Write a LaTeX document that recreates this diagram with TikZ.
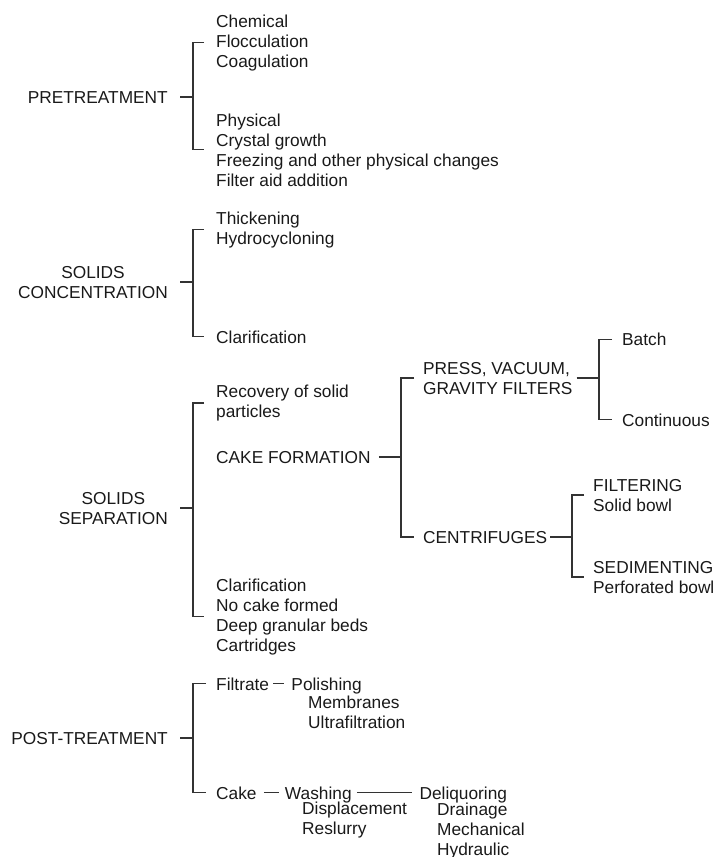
\documentclass[tikz,border=0pt]{standalone}
\usepackage{fontspec}
\setmainfont{Liberation Sans}
\usetikzlibrary{positioning}
\newcommand\treefont{\fontsize{17.3}{20}\selectfont}
\tikzset{
  itemtxt/.style={inner sep=0pt, anchor=base west, align=left, font=\treefont, text=black!90},
  headtxt/.style={inner sep=0pt, anchor=base east, align=center, font=\treefont, text=black!90},
  brline/.style={line width=1.2pt, draw=black!80},
}

\begin{document}
\begin{tikzpicture}[x=1pt,y=-1pt]
  \useasboundingbox (0,0) rectangle (716,857);
  % pretreatment (node base = last line)
  \node[headtxt] (pre) at (168,103) {PRETREATMENT};
  \node[itemtxt] (chem) at (216,67) {Chemical\\Flocculation\\Coagulation};
  \node[itemtxt] (phys) at (216,186) {Physical\\Crystal growth\\Freezing and other physical changes\\Filter aid addition};
  \draw[brline] ([xshift=-12pt]chem.west) -- ++(-11,0) coordinate (prej) |- ([xshift=-12pt]phys.west);
  \draw[brline] ([xshift=12pt]pre.east) -- (pre.east -| prej);
  % solids concentration
  \node[headtxt] (conc) at (168,298) {SOLIDS\\CONCENTRATION};
  \node[itemtxt] (thick) at (216,244) {Thickening\\Hydrocycloning};
  \node[itemtxt] (clar) at (216,343) {Clarification};
  \draw[brline] ([xshift=-12pt]thick.west) -- ++(-11,0) coordinate (concj) |- ([xshift=-12pt]clar.west);
  \draw[brline] ([xshift=12pt]conc.east) -- (conc.east -| concj);
  % solids separation
  \node[headtxt] (sep) at (168,524) {SOLIDS\\SEPARATION};
  \node[itemtxt] (recov) at (216,417.5) {Recovery of solid\\particles};
  \node[itemtxt] (cake) at (216,463) {CAKE FORMATION};
  \node[itemtxt] (nocake) at (216,651) {Clarification\\No cake formed\\Deep granular beds\\Cartridges};
  \draw[brline] ([xshift=-12pt]recov.west) -- ++(-11,0) coordinate (sepj) |- ([xshift=-12pt]nocake.west);
  \draw[brline] ([xshift=12pt]sep.east) -- (sep.east -| sepj);
  % cake formation
  \node[itemtxt] (press) at (423,394) {PRESS, VACUUM,\\GRAVITY FILTERS};
  \node[itemtxt] (centri) at (423,543) {CENTRIFUGES};
  \draw[brline] ([xshift=-9pt]press.west) -- ++(-13,0) coordinate (cakej) |- ([xshift=-9pt]centri.west);
  \draw[brline] ([xshift=8pt]cake.east) -- (cake.east -| cakej);
  % filters
  \node[itemtxt] (batch) at (622,345.5) {Batch};
  \node[itemtxt] (cont) at (622,426) {Continuous};
  \draw[brline] ([xshift=-10pt]batch.west) -- ++(-13,0) coordinate (pressj) |- ([xshift=-10pt]cont.west);
  \draw[brline] ([xshift=4pt]press.east) -- (press.east -| pressj);
  % centrifuges
  \node[itemtxt] (filt) at (593,511) {FILTERING\\Solid bowl};
  \node[itemtxt] (sedi) at (593,593) {SEDIMENTING\\Perforated bowl};
  \draw[brline] ([xshift=-9pt]filt.west) -- ++(-12,0) coordinate (centj) |- ([xshift=-9pt]sedi.west);
  \draw[brline] ([xshift=3pt]centri.east) -- (centri.east -| centj);
  % post-treatment
  \node[headtxt] (post) at (168,744) {POST-TREATMENT};
  \node[itemtxt] (filtr) at (216,690) {Filtrate};
  \node[itemtxt, base right=22pt of filtr] (polish) {Polishing};
  \node[itemtxt] (membr) at (308,728) {Membranes\\Ultrafiltration};
  \node[itemtxt] (caketr) at (216,799) {Cake};
  \node[itemtxt, base right=28pt of caketr] (wash) {Washing};
  \node[itemtxt] (displ) at (302,834.5) {Displacement\\Reslurry};
  \node[itemtxt, base right=67.5pt of wash] (deliq) {Deliquoring};
  \node[itemtxt] (drain) at (437,855) {Drainage\\Mechanical\\Hydraulic};
  \draw[brline] ([xshift=-10pt]filtr.west) -- ++(-13,0) coordinate (postj) |- ([xshift=-10pt]caketr.west);
  \draw[brline] ([xshift=12pt]post.east) -- (post.east -| postj);
  \draw[brline] ([xshift=4pt]filtr.east) -- ([xshift=-7pt]polish.west |- filtr.east);
  \draw[brline] ([xshift=7pt]caketr.east) -- ([xshift=-6pt]wash.west |- caketr.east);
  \draw[brline] ([xshift=5pt]wash.east |- caketr.east) -- ([xshift=-7pt]deliq.west |- caketr.east);
\end{tikzpicture}
\end{document}
